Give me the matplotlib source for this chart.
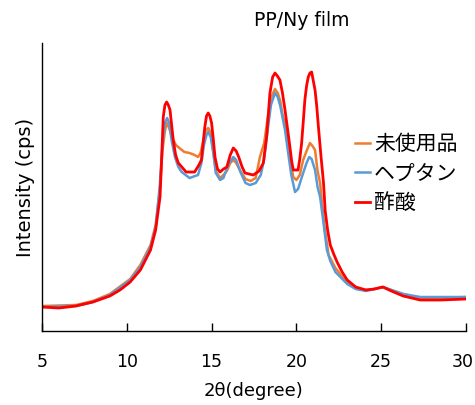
import numpy as np
import matplotlib
matplotlib.use("Agg")
import matplotlib.pyplot as plt
import matplotlib.transforms as mtransforms

plt.rcParams['font.family'] = ['DejaVu Sans', 'Noto Sans CJK JP']

# 2theta / intensity
theta_red = [5.0, 6.0, 7.0, 8.0, 9.0, 9.6, 10.2, 10.8, 11.4, 11.7, 11.96, 12.05, 12.15, 12.25,
             12.35, 12.45, 12.55, 12.65, 12.74, 12.88, 13.04, 13.5, 14.0, 14.25, 14.4, 14.5,
             14.6, 14.7, 14.8, 14.9, 15.0, 15.1, 15.2, 15.35, 15.5, 15.7, 15.9, 16.1, 16.28,
             16.45, 16.6, 16.8, 16.97, 17.46, 17.8, 18.05, 18.25, 18.44, 18.6, 18.74, 18.88,
             19.03, 19.18, 19.33, 19.48, 19.62, 19.72, 19.82, 20.0, 20.1, 20.2, 20.31, 20.4,
             20.5, 20.6, 20.7, 20.8, 20.9, 21.0, 21.1, 21.2, 21.3, 21.45, 21.6, 21.7, 21.85,
             22.0, 22.2, 22.4, 22.7, 23.0, 23.5, 24.1, 24.6, 25.1, 25.6, 26.3, 27.3, 28.5, 30.0]
int_red = [240, 230, 250, 290, 350, 410, 490, 610, 810, 1010, 1340, 1700, 2140, 2260,
           2290, 2260, 2210, 2050, 1910, 1760, 1680, 1590, 1590, 1660, 1710, 1880,
           2040, 2150, 2180, 2150, 2080, 1920, 1740, 1620, 1590, 1620, 1640, 1760, 1830,
           1800, 1740, 1640, 1580, 1560, 1600, 1680, 1950, 2380, 2540, 2580, 2550,
           2510, 2380, 2210, 2020, 1840, 1700, 1610, 1610, 1610, 1720, 1880, 2080,
           2310, 2450, 2540, 2580, 2590, 2500, 2410, 2250, 2040, 1750, 1480, 1200, 1000,
           860, 770, 690, 590, 510, 440, 410, 420, 440, 400, 350, 310, 310, 320]

theta_org = [5.0, 7.0, 8.0, 9.0, 10.2, 10.8, 11.4, 11.7, 11.95, 12.1, 12.25, 12.35, 12.5, 12.6,
             12.74, 12.9, 13.1, 13.4, 13.7, 14.0, 14.2, 14.35, 14.5, 14.65, 14.8, 14.95, 15.1,
             15.25, 15.5, 15.7, 15.9, 16.1, 16.28, 16.45, 16.7, 17.0, 17.3, 17.6, 17.85, 18.1,
             18.3, 18.5, 18.74, 18.9, 19.05, 19.2, 19.33, 19.5, 19.65, 19.82, 20.0, 20.2, 20.4,
             20.6, 20.8, 20.95, 21.1, 21.25, 21.4, 21.5, 21.65, 21.9, 22.3, 23.0, 23.5, 24.1,
             24.6, 25.1, 25.6, 26.3, 27.3, 28.5, 30.0]
int_org = [250, 260, 300, 370, 520, 660, 860, 1060, 1410, 1800, 2000, 2080, 2030, 1970,
           1910, 1860, 1830, 1790, 1780, 1760, 1740, 1780, 1890, 2000, 2030, 1980, 1800,
           1600, 1530, 1560, 1600, 1680, 1710, 1680, 1600, 1520, 1500, 1530, 1740, 1880,
           2120, 2330, 2420, 2380, 2300, 2150, 2080, 1880, 1700, 1540, 1510, 1560, 1710,
           1800, 1880, 1850, 1810, 1600, 1480, 1300, 1050, 760, 630, 480, 430, 410,
           420, 440, 410, 370, 330, 330, 340]

theta_blu = [5.0, 7.0, 8.0, 9.0, 10.2, 10.8, 11.4, 11.7, 11.95, 12.1, 12.25, 12.38, 12.5, 12.65,
             12.84, 13.04, 13.24, 13.7, 14.2, 14.4, 14.55, 14.7, 14.8, 14.95, 15.1, 15.25, 15.5,
             15.7, 15.95, 16.28, 16.45, 16.7, 17.0, 17.26, 17.6, 17.9, 18.1, 18.3, 18.5, 18.74,
             18.9, 19.05, 19.33, 19.5, 19.7, 19.92, 20.1, 20.4, 20.6, 20.76, 20.9, 21.1, 21.25,
             21.4, 21.6, 21.8, 22.0, 22.3, 23.0, 23.5, 24.1, 24.6, 25.1, 25.6, 26.3, 27.3,
             28.5, 30.0]
int_blu = [240, 250, 290, 360, 510, 640, 840, 1030, 1460, 1860, 2080, 2130, 2080, 1900,
           1740, 1640, 1590, 1530, 1560, 1680, 1860, 1960, 1990, 1940, 1780, 1580, 1510,
           1530, 1650, 1740, 1710, 1590, 1480, 1460, 1480, 1560, 1720, 2000, 2260, 2380,
           2340, 2250, 2010, 1800, 1560, 1390, 1420, 1580, 1680, 1740, 1720, 1610, 1440,
           1340, 1080, 810, 700, 590, 470, 420, 400, 420, 440, 410, 370, 340,
           340, 340]

labels = ['未使用品', 'ヘプタン', '酢酸']
xticks = [5, 10, 15, 20, 25, 30]

fig = plt.figure(figsize=(4.75, 4.05), dpi=100)
ax = fig.add_axes([0.0884, 0.1827, 0.8926, 0.7111])

ax.plot(theta_org, int_org, color='#ED7D31', lw=1.8, label=labels[0])
ax.plot(theta_blu, int_blu, color='#5B9BD5', lw=1.8, label=labels[1])
ax.plot(theta_red, int_red, color='#FF0000', lw=2.0, label=labels[2])

ax.set_xlim(5, 30)
ax.set_ylim(0, 2880)
ax.set_xticks(xticks)
ax.set_yticks([])
ax.tick_params(axis='x', direction='in', length=6, width=1, labelsize=12.5, pad=15.5)
for s in ['top', 'right']:
    ax.spines[s].set_visible(False)
for s in ['left', 'bottom']:
    ax.spines[s].set_linewidth(1)

# keep the last tick label ("30") inside the canvas
last = ax.get_xticklabels()[-1]
last.set_transform(last.get_transform() +
                   mtransforms.ScaledTranslation(-3 / 100, 0, fig.dpi_scale_trans))

ax.set_xlabel('2θ(degree)', fontsize=13, labelpad=8)
ax.set_ylabel('Intensity (cps)', fontsize=14, labelpad=5)
fig.text(0.636, 0.95, 'PP/Ny film', ha='center', va='center', fontsize=13.5)

fig.legend(loc='upper left', bbox_to_anchor=(0.747, 0.672), frameon=False,
           prop={'family': ['Noto Sans CJK JP', 'DejaVu Sans'], 'size': 15},
           handlelength=0.72, handletextpad=0.2, labelspacing=0.37,
           borderpad=0, borderaxespad=0)

fig.savefig('out.png', dpi=100)
